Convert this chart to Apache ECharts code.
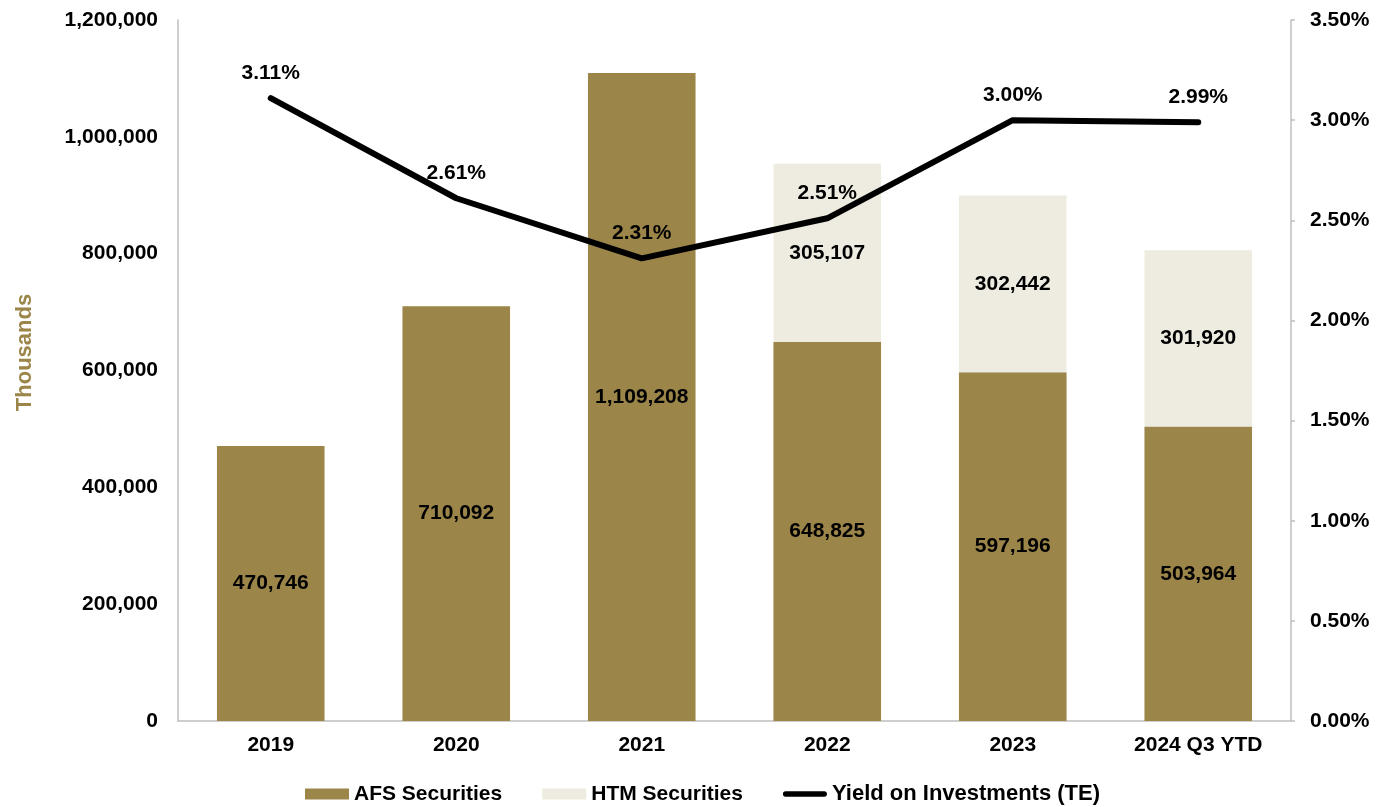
<!DOCTYPE html>
<html>
<head>
<meta charset="utf-8">
<script src="https://cdn.jsdelivr.net/npm/echarts@6/dist/echarts.min.js"></script>
<style>
  html, body { margin: 0; padding: 0; background: #ffffff; }
  #chart { width: 1383px; height: 807px; }
</style>
</head>
<body>
<div id="chart"></div>
<script>
// Investment portfolio composition and yield
const categories = ['2019', '2020', '2021', '2022', '2023', '2024 Q3 YTD'];
const afsSecurities = [470746, 710092, 1109208, 648825, 597196, 503964];
const htmSecurities = [0, 0, 0, 305107, 302442, 301920];
const yieldPct = [3.11, 2.61, 2.31, 2.51, 3.00, 2.99];

const FONT = '"Liberation Sans", Arial, sans-serif';
const GOLD = '#9b8549';
const CREAM = '#eeece1';
const FS = 21;

const chart = echarts.init(document.getElementById('chart'));

const fmtNum = v => Number(v).toLocaleString('en-US');

// thick rounded bar used as the legend swatch for the yield line
const LINE_ICON = 'path://M0,0 L0.01,0 M0,11 L0.01,11 M3,2.5 L46,2.5 A3,3 0 0 1 46,8.5 L3,8.5 A3,3 0 0 1 3,2.5 Z';

chart.setOption({
  animation: false,
  textStyle: { fontFamily: FONT },
  grid: { left: 178, right: 92, top: 20, bottom: 86 },
  legend: {
    left: 300,
    top: 778,
    itemWidth: 44,
    itemHeight: 11,
    itemGap: 40,
    textStyle: { fontFamily: FONT, fontWeight: 'bold', fontSize: FS, color: '#000' },
    data: [
      { name: 'AFS Securities', icon: 'rect' },
      { name: 'HTM Securities', icon: 'rect' },
      { name: 'Yield on Investments (TE)', icon: LINE_ICON, textStyle: { fontSize: 22 } }
    ]
  },
  xAxis: {
    type: 'category',
    data: categories,
    axisLine: { lineStyle: { color: '#bfbfbf', width: 1.5 } },
    axisTick: { show: false },
    axisLabel: { fontFamily: FONT, fontWeight: 'bold', fontSize: FS, color: '#000', margin: 14 }
  },
  yAxis: [
    {
      type: 'value',
      min: 0, max: 1200000, interval: 200000,
      name: 'Thousands',
      nameLocation: 'middle',
      nameGap: 142,
      nameRotate: 90,
      nameTextStyle: {
        fontFamily: FONT, fontWeight: 'bold', fontSize: 22, color: GOLD,
        padding: [0, 0, 0, 36]
      },
      axisLine: { show: true, lineStyle: { color: '#bfbfbf', width: 1.5 } },
      axisTick: { show: false },
      splitLine: { show: false },
      axisLabel: { fontFamily: FONT, fontWeight: 'bold', fontSize: FS, color: '#000', margin: 20, formatter: fmtNum }
    },
    {
      type: 'value',
      min: 0, max: 3.5, interval: 0.5,
      position: 'right',
      axisLine: { show: true, lineStyle: { color: '#bfbfbf', width: 1.5 } },
      axisTick: { show: true, length: 4, lineStyle: { color: '#bfbfbf', width: 1.5 } },
      splitLine: { show: false },
      axisLabel: { fontFamily: FONT, fontWeight: 'bold', fontSize: FS, color: '#000', margin: 19, formatter: v => v.toFixed(2) + '%' }
    }
  ],
  series: [
    {
      name: 'AFS Securities',
      type: 'bar',
      stack: 'sec',
      barWidth: '58%',
      data: afsSecurities,
      itemStyle: { color: GOLD },
      label: {
        show: true, position: 'inside',
        fontFamily: FONT, fontWeight: 'bold', fontSize: FS, color: '#000',
        formatter: p => fmtNum(p.value)
      }
    },
    {
      name: 'HTM Securities',
      type: 'bar',
      stack: 'sec',
      barWidth: '58%',
      data: htmSecurities,
      itemStyle: { color: CREAM },
      label: {
        show: true, position: 'inside',
        fontFamily: FONT, fontWeight: 'bold', fontSize: FS, color: '#000',
        formatter: p => (p.value ? fmtNum(p.value) : '')
      }
    },
    {
      name: 'Yield on Investments (TE)',
      type: 'line',
      yAxisIndex: 1,
      data: yieldPct,
      symbol: 'circle',
      symbolSize: 1,
      showSymbol: true,
      lineStyle: { color: '#000', width: 6, cap: 'round' },
      itemStyle: { color: '#000' },
      label: {
        show: true, position: 'top', distance: 14,
        fontFamily: FONT, fontWeight: 'bold', fontSize: FS, color: '#000',
        formatter: p => p.value.toFixed(2) + '%'
      },
      z: 5
    }
  ]
});
</script>
</body>
</html>
